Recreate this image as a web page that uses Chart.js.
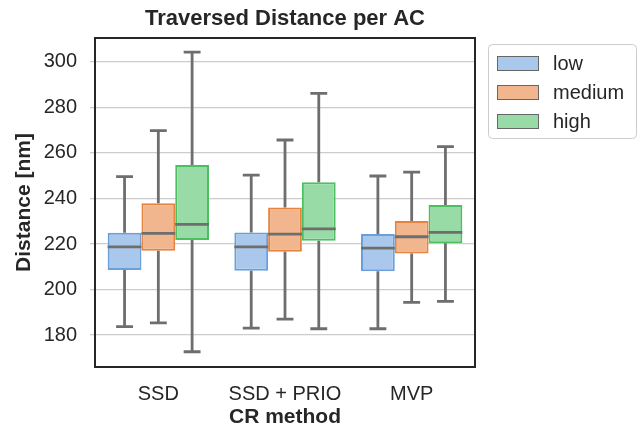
<!DOCTYPE html>
<html>
<head>
<meta charset="utf-8">
<script src="https://cdn.jsdelivr.net/npm/chart.js@4.4.1/dist/chart.umd.min.js"></script>
<style>
  body { margin: 0; background: #fff; }
  #wrap { width: 640px; height: 430px; }
</style>
</head>
<body>
<div id="wrap"><canvas id="distChart" width="640" height="430"></canvas></div>
<script>
const categories = ['SSD', 'SSD + PRIO', 'MVP'];
const levels = ['low', 'medium', 'high'];
const yTicks = [180, 200, 220, 240, 260, 280, 300];

// box statistics per CR method: lower whisker, Q1, median, Q3, upper whisker
const lowMin = [183.7, 183.1, 182.8];
const lowQ1 = [208.6, 208.3, 208.1];
const lowMedian = [218.8, 218.8, 218.2];
const lowQ3 = [225.0, 225.1, 224.4];
const lowMax = [249.6, 250.3, 249.9];

const mediumMin = [185.4, 187.0, 194.4];
const mediumQ1 = [217.1, 216.6, 215.9];
const mediumMedian = [224.7, 224.4, 223.2];
const mediumQ3 = [237.9, 236.1, 230.1];
const mediumMax = [269.8, 265.7, 251.6];

const highMin = [172.7, 182.8, 194.8];
const highQ1 = [221.8, 221.5, 220.3];
const highMedian = [228.6, 226.7, 225.1];
const highQ3 = [254.7, 247.1, 237.1];
const highMax = [304.3, 286.2, 262.8];

const stats = [
    { min: lowMin, q1: lowQ1, median: lowMedian, q3: lowQ3, max: lowMax },
    { min: mediumMin, q1: mediumQ1, median: mediumMedian, q3: mediumQ3, max: mediumMax },
    { min: highMin, q1: highQ1, median: highMedian, q3: highQ3, max: highMax }
];

const fills = ['#aac8ec', '#f2b68e', '#99dba6'];
const borders = ['#6a9fdc', '#e8823f', '#4cbf62'];
const textColor = '#262626';
const lineGray = '#6e6e6e';

Chart.defaults.font.family = '"Liberation Sans", Arial, sans-serif';
Chart.defaults.color = textColor;

// whiskers, caps and medians on top of the floating bars
const boxPlot = {
    id: 'boxPlot',
    afterLayout(chart) {
        // center the title over the plot area rather than the whole canvas
        const t = chart.titleBlock;
        const a = chart.chartArea;
        if (t) {
            t.left = a.left;
            t.right = a.right;
            t.width = a.right - a.left;
        }
    },
    afterDatasetsDraw(chart) {
        const ctx = chart.ctx;
        const y = chart.scales.y;
        ctx.save();
        ctx.strokeStyle = lineGray;
        ctx.lineWidth = 2.8;
        ctx.lineCap = 'butt';
        chart.data.datasets.forEach((ds, d) => {
            const meta = chart.getDatasetMeta(d);
            const s = stats[d];
            meta.data.forEach((bar, i) => {
                const { x, width } = bar.getProps(['x', 'width'], true);
                const half = width / 2;
                const cap = width / 4;
                const yMin = y.getPixelForValue(s.min[i]);
                const yQ1 = y.getPixelForValue(s.q1[i]);
                const yMed = y.getPixelForValue(s.median[i]);
                const yQ3 = y.getPixelForValue(s.q3[i]);
                const yMax = y.getPixelForValue(s.max[i]);
                ctx.beginPath();
                ctx.moveTo(x, yQ3); ctx.lineTo(x, yMax);
                ctx.moveTo(x - cap, yMax); ctx.lineTo(x + cap, yMax);
                ctx.moveTo(x, yQ1); ctx.lineTo(x, yMin);
                ctx.moveTo(x - cap, yMin); ctx.lineTo(x + cap, yMin);
                ctx.moveTo(x - half, yMed); ctx.lineTo(x + half, yMed);
                ctx.stroke();
            });
        });
        ctx.restore();
    },
    afterDraw(chart) {
        const ctx = chart.ctx;
        const a = chart.chartArea;
        ctx.save();
        // axes frame
        ctx.strokeStyle = textColor;
        ctx.lineWidth = 2;
        ctx.strokeRect(a.left, a.top, a.right - a.left, a.bottom - a.top);

        // legend box
        const lx = 488, ly = 44, lw = 148, lh = 94;
        ctx.fillStyle = '#ffffff';
        ctx.strokeStyle = '#cccccc';
        ctx.lineWidth = 1;
        ctx.beginPath();
        ctx.roundRect(lx + 0.5, ly + 0.5, lw, lh, 4);
        ctx.fill();
        ctx.stroke();
        ctx.font = '20px "Liberation Sans", Arial, sans-serif';
        ctx.textBaseline = 'middle';
        chart.data.datasets.forEach((ds, d) => {
            const cy = 63.5 + d * 29;
            ctx.fillStyle = ds.backgroundColor;
            ctx.fillRect(497, cy - 7.5, 42, 15);
            ctx.strokeStyle = '#666666';
            ctx.strokeRect(497.5, cy - 7, 41, 14);
            ctx.fillStyle = textColor;
            ctx.fillText(ds.label, 553, cy + 1);
        });
        ctx.restore();
    }
};

const datasets = levels.map((lvl, d) => ({
    label: lvl,
    data: categories.map((c, i) => [stats[d].q1[i], stats[d].q3[i]]),
    backgroundColor: fills[d],
    borderColor: borders[d],
    borderWidth: 2,
    borderSkipped: false,
    categoryPercentage: 0.8,
    barPercentage: 1.0
}));

new Chart(document.getElementById('distChart'), {
    type: 'bar',
    data: { labels: categories, datasets: datasets },
    options: {
        responsive: false,
        animation: false,
        layout: { padding: { left: 12, right: 165, top: 0, bottom: 0 } },
        plugins: {
            legend: { display: false },
            tooltip: { enabled: false },
            title: {
                display: true,
                text: 'Traversed Distance per AC',
                color: textColor,
                font: { size: 22, weight: 'bold' },
                padding: { top: 6, bottom: 5.6 }
            }
        },
        scales: {
            x: {
                afterFit: scale => { scale.height = 63; },
                grid: { display: false, drawTicks: false },
                border: { display: false },
                ticks: { font: { size: 20 }, color: textColor, padding: 15 },
                title: {
                    display: true,
                    text: 'CR method',
                    color: textColor,
                    font: { size: 21, weight: 'bold' },
                    padding: { top: 1, bottom: 0 }
                }
            },
            y: {
                min: 166,
                max: 310.5,
                afterFit: scale => { scale.width = 83; },
                afterBuildTicks: scale => {
                    scale.ticks = yTicks.map(v => ({ value: v }));
                },
                grid: { color: '#cccccc', lineWidth: 1.3, tickLength: 5, tickColor: '#cccccc' },
                border: { display: false },
                ticks: { font: { size: 20 }, color: textColor, padding: 13 },
                title: {
                    display: true,
                    text: 'Distance [nm]',
                    color: textColor,
                    font: { size: 21, weight: 'bold' },
                    padding: { top: 0, bottom: 6 }
                }
            }
        }
    },
    plugins: [boxPlot]
});
</script>
</body>
</html>
